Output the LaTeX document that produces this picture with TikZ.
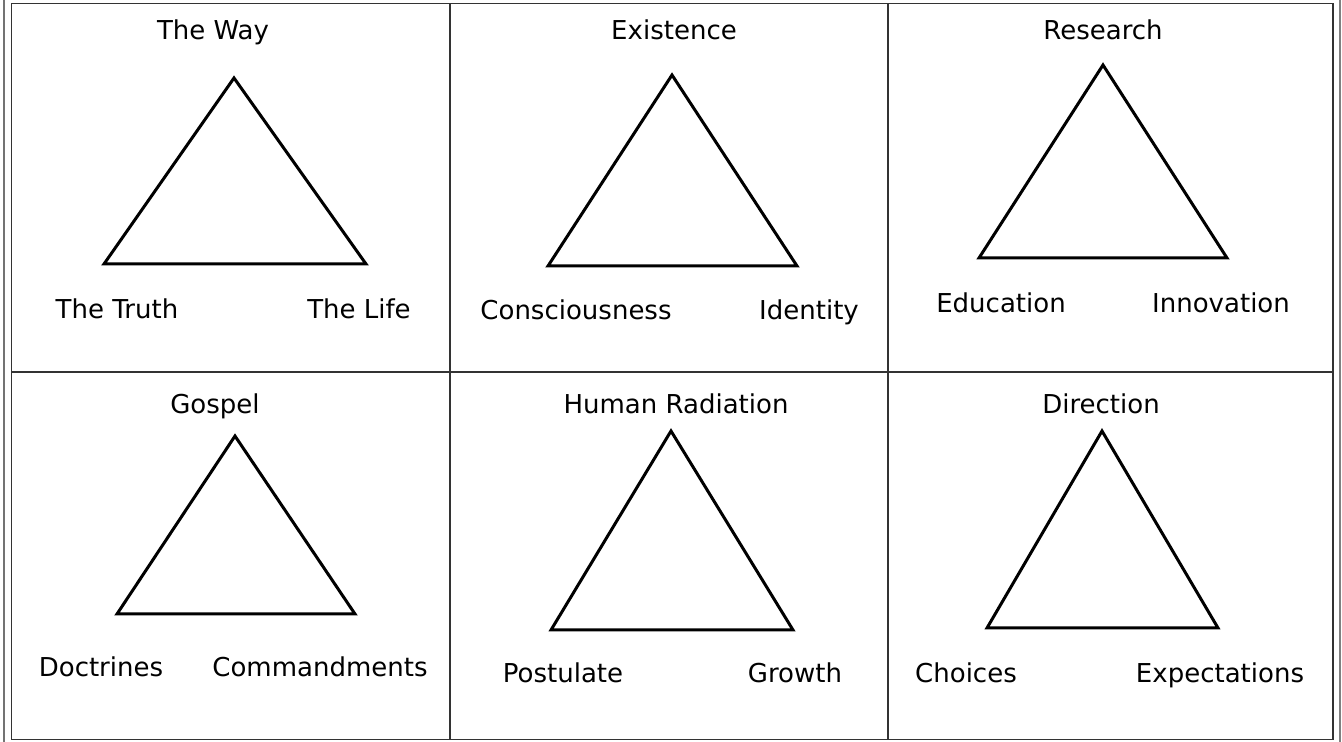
\documentclass[tikz,border=0pt]{standalone}
\usepackage{fontspec}
\setmainfont{DejaVu Sans}
\usepackage{tikz}
\usetikzlibrary{positioning}

\tikzset{
  grid line/.style={draw=black!80, line width=0.03cm},
  tri/.style={draw=black, line width=0.06cm, line join=miter},
  lbl/.style={anchor=base, inner sep=0pt},
}

\begin{document}
\begin{tikzpicture}[x=0.02cm, y=-0.02cm, font=\fontsize{14.8}{17}\selectfont]
\useasboundingbox (0,0) rectangle (1342,742);

% frame and cells
\draw[grid line, draw=black!55] (4,0) -- (4,742);
\draw[grid line, draw=black!50, line width=0.04cm] (1340,0) -- (1340,742);
\draw[grid line] (11.5,3.5) rectangle (1333,739.5);
\draw[grid line] (450,3.5) -- (450,739.5);
\draw[grid line] (888,3.5) -- (888,739.5);
\draw[grid line] (11.5,372) -- (1333,372);

% top row
\draw[tri] (234,78) -- (366,264) -- (104,264) -- cycle;
\node[lbl] (way)   at (213,40)  {The Way};
\node[lbl] (truth) at (117,319) {The Truth};
\node[lbl] (life)  at (359,319) {The Life};

\draw[tri] (672,75) -- (797,266) -- (548,266) -- cycle;
\node[lbl] (exist) at (674,40)  {Existence};
\node[lbl] (consc) at (576,320) {Consciousness};
\node[lbl] (ident) at (809,320) {Identity};

\draw[tri] (1103,65) -- (1227,258) -- (979,258) -- cycle;
\node[lbl] (resrch) at (1103,40)  {Research};
\node[lbl] (educ)   at (1001,313) {Education};
\node[lbl] (innov)  at (1221,313) {Innovation};

% bottom row
\draw[tri] (235,436) -- (355,614) -- (117,614) -- cycle;
\node[lbl] (gospel) at (215,414) {Gospel};
\node[lbl] (doctr)  at (101,677) {Doctrines};
\node[lbl] (comm)   at (320,677) {Commandments};

\draw[tri] (671,431) -- (793,630) -- (551,630) -- cycle;
\node[lbl] (human)  at (676,414) {Human Radiation};
\node[lbl] (postul) at (563,683) {Postulate};
\node[lbl] (growth) at (795,683) {Growth};

\draw[tri] (1102,431) -- (1218,628) -- (987,628) -- cycle;
\node[lbl] (direc)  at (1101,414) {Direction};
\node[lbl] (choice) at (966,683)  {Choices};
\node[lbl] (expect) at (1220,683) {Expectations};
\end{tikzpicture}
\end{document}
